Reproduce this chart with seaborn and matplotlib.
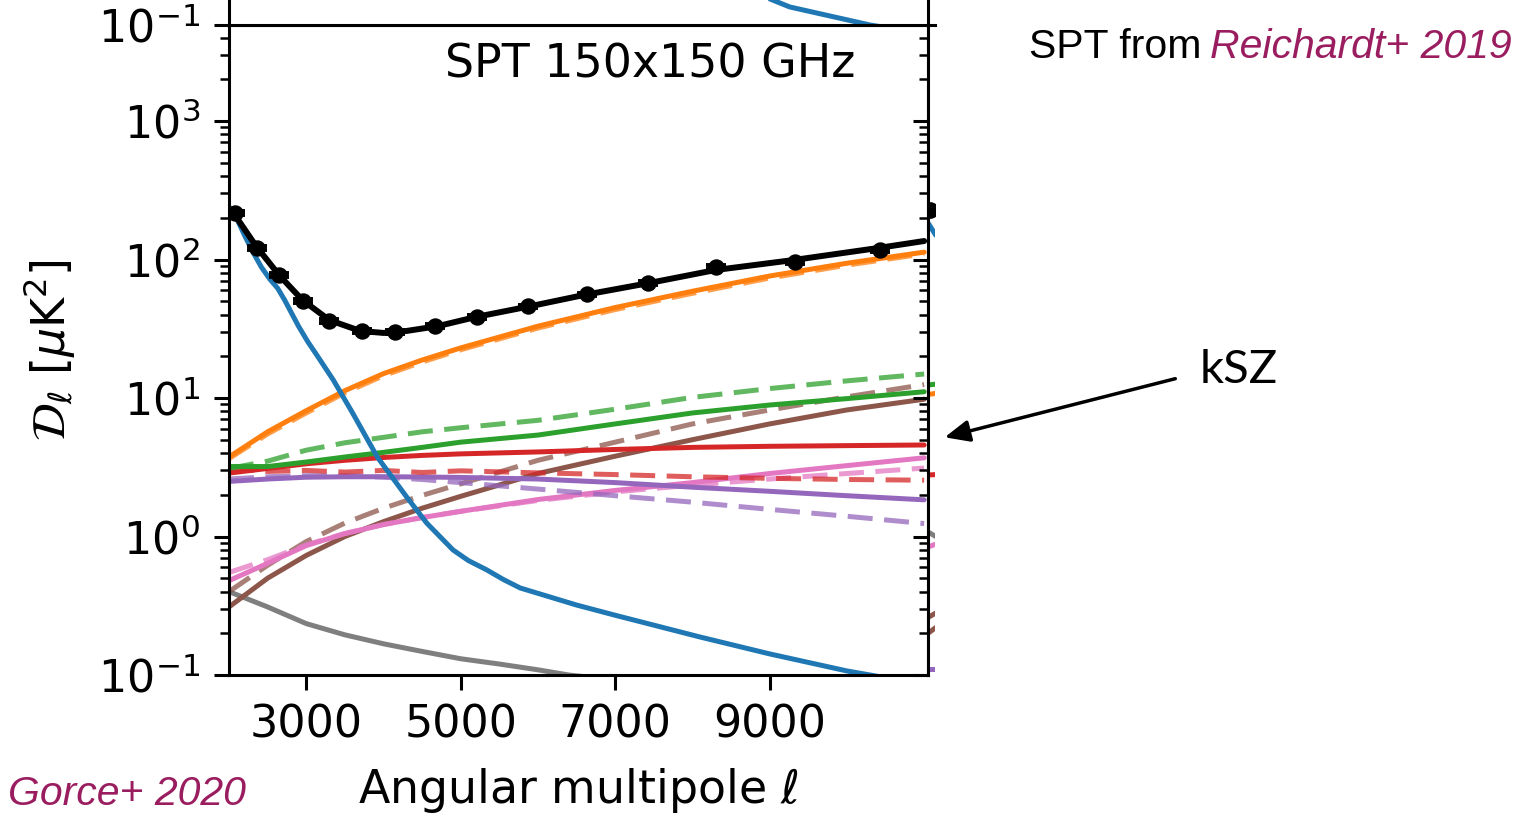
import matplotlib
matplotlib.use("Agg")
import matplotlib.pyplot as plt
import seaborn as sns
from matplotlib.patches import FancyArrowPatch
from matplotlib.ticker import FixedLocator, NullLocator

# ---------------- data ----------------
ell_grid = [2000, 2500, 3000, 3500, 4000, 4500, 5000, 6000, 7000, 8000, 9000, 10000, 11000]

cib_poisson = [3.75, 5.7, 8.1, 11.3, 15.0, 18.8, 23.0, 33.0, 45.0, 59.0, 76.0, 94.0, 113.0]
cib_poisson_alt = [3.65, 5.5, 7.8, 10.9, 14.5, 18.2, 22.3, 32.0, 43.5, 57.0, 73.5, 91.0, 110.0]
green_solid = [3.2, 3.2, 3.45, 3.75, 4.05, 4.4, 4.8, 5.4, 6.5, 7.8, 8.9, 9.9, 11.1]
green_dashed = [3.1, 3.5, 4.2, 4.75, 5.2, 5.7, 6.1, 6.9, 8.3, 10.1, 11.7, 13.3, 14.9]
red_solid = [2.87, 3.1, 3.35, 3.55, 3.72, 3.85, 3.95, 4.08, 4.25, 4.4, 4.48, 4.53, 4.58]
red_dashed = [3.1, 2.95, 3.0, 2.92, 3.0, 2.9, 2.98, 2.88, 2.8, 2.7, 2.63, 2.58, 2.55]
purple_solid = [2.5, 2.6, 2.68, 2.7, 2.7, 2.69, 2.67, 2.6, 2.45, 2.27, 2.12, 1.97, 1.84]
purple_dashed = [2.6, 2.7, 2.75, 2.75, 2.68, 2.58, 2.45, 2.2, 1.97, 1.77, 1.57, 1.4, 1.24]
pink_solid = [0.48, 0.64, 0.86, 1.05, 1.22, 1.37, 1.52, 1.85, 2.15, 2.45, 2.85, 3.25, 3.7]
pink_dashed = [0.55, 0.68, 0.87, 1.05, 1.22, 1.37, 1.52, 1.82, 2.1, 2.35, 2.6, 2.85, 3.12]
brown_solid = [0.31, 0.5, 0.73, 1.0, 1.28, 1.6, 1.95, 2.85, 3.8, 5.0, 6.5, 8.2, 9.8]
brown_dashed = [0.4, 0.62, 0.92, 1.25, 1.6, 1.98, 2.4, 3.55, 4.8, 6.5, 8.2, 10.2, 12.5]

ell_gray = [2000, 2500, 3000, 3500, 4000, 4500, 5000, 5500, 6000, 6400, 7000]
gray_vals = [0.4, 0.31, 0.235, 0.195, 0.168, 0.148, 0.131, 0.12, 0.109, 0.1, 0.092]

ell_cmb = [2000, 2080, 2200, 2310, 2420, 2530, 2630, 2720, 2810, 2900, 3020, 3140, 3350,
           3600, 3920, 4300, 4560, 4730, 4900, 5100, 5340, 5550, 5770, 6500, 7000,
           8100, 9000, 10000, 10300, 11000]
cmb_vals = [240, 209, 150, 113, 88, 72, 62, 51, 41, 33, 25.5, 20.3, 13.5,
            7.8, 3.75, 1.93, 1.25, 1.0, 0.80, 0.67, 0.573, 0.49, 0.425, 0.32, 0.27,
            0.188, 0.142, 0.107, 0.1, 0.085]

ell_total = [2000, 2100, 2350, 2650, 2950, 3300, 3700, 4000, 4300, 4700, 5200,
             5900, 6600, 7400, 8300, 9300, 10400, 11000]
total_vals = [230, 200, 125, 77, 51, 36.5, 30.5, 29.5, 30.5, 33, 38.5,
              46, 55.5, 67, 84, 99, 121, 136]

spt_ell = [2080, 2360, 2650, 2960, 3300, 3720, 4150, 4670, 5210, 5870, 6630, 7420, 8300, 9330, 10430]
spt_dl = [217, 121, 77, 50, 36, 30.5, 30, 33, 38.5, 46, 56, 67.5, 88, 96, 117]
spt_err = [8, 4, 2.5, 1.6, 1.1, 0.9, 0.9, 1.0, 1.1, 1.3, 1.6, 2.0, 2.6, 2.9, 3.5]

# neighbouring panels (only their edges fall inside the figure)
ell_up = [8500, 9260, 10300, 10600]
cmb_up = [0.2, 0.135, 0.1, 0.094]
ell_side = [2000, 2100]
side_lines = {
    "#1f77b4": [184, 150],
    "#2ca02c": [12.4, 12.6],
    "#ff7f0e": [10.6, 10.8],
    "#d62728": [2.78, 2.8],
    "#7f7f7f": [1.08, 1.0],
    "#e377c2": [0.84, 0.88],
    "#8c564b": [0.26, 0.28],
    "#8c564b_b": [0.2, 0.22],
    "#9467bd": [0.11, 0.11],
}

xticks = [3000, 5000, 7000, 9000]
accent = "#9a1d5f"

# ---------------- style ----------------
sns.set_style("ticks")
plt.rcParams["font.family"] = ["DejaVu Sans"]
plt.rcParams["mathtext.fontset"] = "dejavusans"
for key in ("text.color", "axes.labelcolor", "xtick.color", "ytick.color", "axes.edgecolor"):
    plt.rcParams[key] = "black"

W, H = 1528, 815
fig = plt.figure(figsize=(W / 100, H / 100), dpi=100)


def fx(px):
    return px / W


def fy(py):
    return 1 - py / H


L, R, T, B = 229, 928, 25, 675
XLIM = (2000, 11050)
YLIM = (0.1, 4935)
LW = 3.6
SPINE = 2.2


def style_axes(a):
    for s in a.spines.values():
        s.set_linewidth(SPINE)
        s.set_color("black")
    a.tick_params(which="major", length=10.8, width=SPINE, pad=10,
                  labelsize=32, direction="out", color="black", labelcolor="black")
    a.tick_params(which="minor", length=6.5, width=1.8, direction="out", color="black")


ax = fig.add_axes([fx(L), fy(B), fx(R - L), (B - T) / H])
ax.set_yscale("log")
ax.set_xlim(*XLIM)
ax.set_ylim(*YLIM)
style_axes(ax)

dash = (0, (5, 2.3))


def line(x, y, color, dashed=False, alpha=1.0, lw=LW, target=None):
    sns.lineplot(x=x, y=y, ax=target or ax, color=color, lw=lw,
                 linestyle=dash if dashed else "-", alpha=alpha,
                 estimator=None, sort=False, legend=False)


line(ell_gray, gray_vals, "#7f7f7f")
line(ell_grid, brown_dashed, "#8c564b", dashed=True, alpha=0.75)
line(ell_grid, brown_solid, "#8c564b")
line(ell_grid, pink_dashed, "#e377c2", dashed=True, alpha=0.75)
line(ell_grid, pink_solid, "#e377c2")
line(ell_grid, purple_dashed, "#9467bd", dashed=True, alpha=0.75)
line(ell_grid, purple_solid, "#9467bd")
line(ell_grid, red_dashed, "#d62728", dashed=True, alpha=0.75)
line(ell_grid, red_solid, "#d62728")
line(ell_grid, green_dashed, "#2ca02c", dashed=True, alpha=0.75)
line(ell_grid, green_solid, "#2ca02c")
line(ell_grid, cib_poisson_alt, "#ff7f0e", dashed=True, alpha=0.75)
line(ell_grid, cib_poisson, "#ff7f0e")
line(ell_cmb, cmb_vals, "#1f77b4")
line(ell_total, total_vals, "black", lw=4.3)

ax.errorbar(spt_ell, spt_dl, yerr=spt_err, fmt="none", ecolor="black",
            elinewidth=2.5, capsize=7.5, capthick=2.8, zorder=5)
sns.scatterplot(x=spt_ell, y=spt_dl, ax=ax, color="black", s=140,
                edgecolor="black", linewidth=0, zorder=6, legend=False)

ax.xaxis.set_major_locator(FixedLocator(xticks))
ax.xaxis.set_minor_locator(NullLocator())
ax.set_xticklabels([str(t) for t in xticks])
ax.set_xlabel(r"Angular multipole $\ell$", fontsize=33, labelpad=14)
ax.set_ylabel(r"$\mathcal{D}_\ell$ [$\mu$K$^2$]", fontsize=33)
ax.yaxis.set_label_coords(-0.218, 0.5)
ax.text(0.8956, 0.9385, "SPT 150x150 GHz", transform=ax.transAxes,
        ha="right", va="center", fontsize=33, color="black")

# panel above (only its lower edge is visible)
axu = fig.add_axes([fx(L), fy(T), fx(R - L), (B - T) / H])
axu.set_yscale("log")
axu.set_xlim(*XLIM)
axu.set_ylim(*YLIM)
style_axes(axu)
axu.tick_params(axis="x", length=0, labelbottom=False)
line(ell_up, cmb_up, "#1f77b4", target=axu)
axu.set_xlabel("")
axu.set_ylabel("")

# panel to the right (only its left edge is visible)
side_w = 7
axr = fig.add_axes([fx(R), fy(B), fx(side_w), (B - T) / H])
axr.set_yscale("log")
axr.set_xlim(2000, 2000 + side_w / 0.07717)
axr.set_ylim(*YLIM)
style_axes(axr)
axr.spines["right"].set_visible(False)
axr.spines["bottom"].set_visible(False)
axr.tick_params(axis="x", length=0, labelbottom=False)
axr.tick_params(axis="y", labelleft=False)
for key, vals in side_lines.items():
    line(ell_side, vals, key.split("_")[0], target=axr)
axr.plot([2030], [228], "o", color="black", ms=11)
axr.set_xlabel("")
axr.set_ylabel("")

# annotations
cite = dict(family=["Liberation Sans", "DejaVu Sans"], fontsize=29.5)
t2 = fig.text(fx(1512), fy(58), "Reichardt+ 2019", color=accent, style="italic",
              ha="right", va="baseline", **cite)
fig.canvas.draw()
bb = t2.get_window_extent()
fig.text(bb.x0 / W - fx(9), fy(58), "SPT from", color="black",
         ha="right", va="baseline", **cite)
fig.text(fx(8), fy(805), "Gorce+ 2020", color=accent, style="italic",
         ha="left", va="baseline", **cite)

fig.text(fx(1200), fy(383), "kSZ", family=["Lato", "DejaVu Sans"], fontsize=34,
         ha="left", va="baseline", color="black")
arrow = FancyArrowPatch((fx(1178), fy(378)), (fx(942), fy(438)),
                        transform=fig.transFigure,
                        arrowstyle="-|>,head_length=0.5,head_width=0.22",
                        mutation_scale=30, lw=2.5, color="black")
fig.add_artist(arrow)

fig.savefig("out.png", dpi=100)
